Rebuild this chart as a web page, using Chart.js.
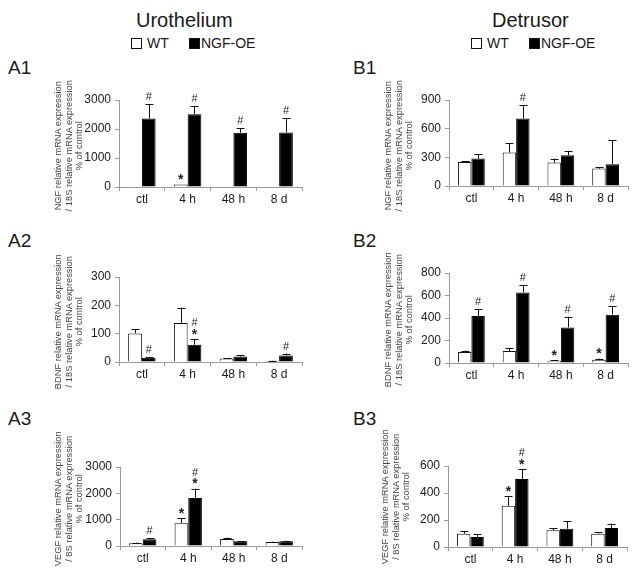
<!DOCTYPE html>
<html>
<head>
<meta charset="utf-8">
<script src="https://cdn.jsdelivr.net/npm/chart.js@4.4.0/dist/chart.umd.min.js"></script>
<style>
  body { margin: 0; background: #fff; }
  #fig { position: relative; width: 641px; height: 574px; overflow: hidden;
         font-family: "Liberation Sans", Arial, sans-serif; color: #1a1a1a; }
  #fig canvas { position: absolute; }
  .txt { position: absolute; white-space: nowrap; }
  .head { font-size: 20px; line-height: 20px; }
  .panel { font-size: 19px; line-height: 19px; }
  .leg { font-size: 14px; line-height: 14px; }
  .box { position: absolute; width: 9px; height: 9px; border: 1px solid #111; }
  .ytitle { position: absolute; width: 150px; height: 31.5px; font-size: 9.3px; line-height: 10.5px;
            text-align: center; color: #444; transform: rotate(-90deg); white-space: nowrap; }
</style>
</head>
<body>
<div id="fig">
  <div class="txt head" style="left:136px; top:10px;">Urothelium</div>
  <div class="txt head" style="left:492px; top:10px;">Detrusor</div>

  <div class="box" style="left:131px; top:38px; background:#fff;"></div>
  <div class="txt leg" style="left:147px; top:36px;">WT</div>
  <div class="box" style="left:189px; top:38px; background:#000;"></div>
  <div class="txt leg" style="left:201px; top:36px;">NGF-OE</div>

  <div class="box" style="left:471px; top:38px; background:#fff;"></div>
  <div class="txt leg" style="left:487px; top:36px;">WT</div>
  <div class="box" style="left:529px; top:38px; background:#000;"></div>
  <div class="txt leg" style="left:541px; top:36px;">NGF-OE</div>

  <div class="txt panel" style="left:8px; top:58px;">A1</div>
  <div class="txt panel" style="left:353px; top:58px;">B1</div>
  <div class="txt panel" style="left:8px; top:231px;">A2</div>
  <div class="txt panel" style="left:353px; top:231px;">B2</div>
  <div class="txt panel" style="left:8px; top:409px;">A3</div>
  <div class="txt panel" style="left:353px; top:409px;">B3</div>

  <canvas id="cA1"></canvas>
  <canvas id="cB1"></canvas>
  <canvas id="cA2"></canvas>
  <canvas id="cB2"></canvas>
  <canvas id="cA3"></canvas>
  <canvas id="cB3"></canvas>
</div>

<script>
// ---- data ----
const categories = ['ctl', '4 h', '48 h', '8 d'];

// A1 - NGF, urothelium
const wtA1 = [30, 90, 20, 20];
const wtErrA1 = [0, 0, 0, 0];
const ngfA1 = [2360, 2510, 1870, 1880];
const ngfErrA1 = [490, 280, 150, 500];
const wtMarksA1 = ['', '*', '', ''];
const ngfMarksA1 = ['#', '#', '#', '#'];

// B1 - NGF, detrusor
const wtB1 = [250, 350, 245, 182];
const wtErrB1 = [10, 95, 42, 18];
const ngfB1 = [287, 707, 322, 228];
const ngfErrB1 = [45, 140, 46, 250];
const wtMarksB1 = ['', '', '', ''];
const ngfMarksB1 = ['', '#', '', ''];

// A2 - BDNF, urothelium
const wtA2 = [101, 138, 12, 4];
const wtErrA2 = [14, 54, 2, 1];
const ngfA2 = [15, 61, 19, 23];
const ngfErrA2 = [3, 20, 5, 7];
const wtMarksA2 = ['', '', '', ''];
const ngfMarksA2 = ['#', '#*', '', '#'];

// B2 - BDNF, detrusor
const wtB2 = [98, 107, 21, 30];
const wtErrB2 = [12, 24, 5, 9];
const ngfB2 = [418, 627, 316, 430];
const ngfErrB2 = [65, 63, 95, 75];
const wtMarksB2 = ['', '', '*', '*'];
const ngfMarksB2 = ['#', '#', '#', '#'];

// A3 - VEGF, urothelium
const wtA3 = [102, 868, 268, 153];
const wtErrA3 = [25, 180, 50, 15];
const ngfA3 = [255, 1826, 179, 179];
const ngfErrA3 = [50, 357, 10, 25];
const wtMarksA3 = ['', '*', '', ''];
const ngfMarksA3 = ['#', '#*', '', ''];

// B3 - VEGF, detrusor
const wtB3 = [99, 305, 124, 99];
const wtErrB3 = [20, 72, 15, 10];
const ngfB3 = [74, 503, 136, 141];
const ngfErrB3 = [20, 72, 57, 33];
const wtMarksB3 = ['', '*', '', ''];
const ngfMarksB3 = ['', '#*', '', ''];

// y axis ranges
const yMaxA1 = 3000, yStepA1 = 1000;
const yMaxB1 = 900, yStepB1 = 300;
const yMaxA2 = 300, yStepA2 = 100;
const yMaxB2 = 800, yStepB2 = 200;
const yMaxA3 = 3000, yStepA3 = 1000;
const yMaxB3 = 600, yStepB3 = 200;

const titleNGF = ['NGF relative mRNA expression', '/ 18S relative mRNA expression', '% of control'];
const titleBDNF = ['BDNF relative mRNA expression', '/ 18S relative mRNA expression', '% of control'];
const titleVEGF = ['VEGF relative mRNA expression', '/ 8S relative mRNA expression', '% of control'];

// ---- helpers ----
const FONT = '"Liberation Sans", Arial, sans-serif';
const AXIS_COLOR = '#9a9a9a';
const Y_WIDTH = 71, PAD_TOP = 24, PAD_RIGHT = 4, X_HEIGHT = 26;

// upper error whiskers + significance marks
const errorBarPlugin = {
    id: 'errorBars',
    afterDatasetsDraw(chart) {
        const ctx = chart.ctx;
        const yScale = chart.scales.y;
        chart.data.datasets.forEach((ds, i) => {
            const meta = chart.getDatasetMeta(i);
            meta.data.forEach((bar, j) => {
                const err = ds.errors[j] || 0;
                const yTop = yScale.getPixelForValue(ds.data[j] + err);
                if (err > 0) {
                    ctx.save();
                    ctx.strokeStyle = '#111';
                    ctx.lineWidth = 1;
                    ctx.beginPath();
                    const x = Math.round(bar.x) + 0.5;
                    ctx.moveTo(x, bar.y);
                    ctx.lineTo(x, yTop);
                    ctx.moveTo(x - 4, Math.round(yTop) + 0.5);
                    ctx.lineTo(x + 4, Math.round(yTop) + 0.5);
                    ctx.stroke();
                    ctx.restore();
                }
                const marks = ds.marks[j] || '';
                const n = marks.length;
                for (let k = n - 1; k >= 0; k--) {
                    const ch = marks[k];
                    let cy = yTop - 7 - (n - 1 - k) * 9;
                    ctx.save();
                    ctx.fillStyle = '#222';
                    ctx.textAlign = 'center';
                    ctx.textBaseline = 'middle';
                    if (ch === '*') {
                        ctx.font = 'bold 14px ' + FONT;
                        cy += 3;
                    } else {
                        ctx.font = '11px ' + FONT;
                    }
                    ctx.fillText(ch, bar.x, cy);
                    ctx.restore();
                }
            });
        });
    }
};

// rotated three-line y axis title, as text next to the canvas
function addYTitle(lines, cx, cy) {
    const div = document.createElement('div');
    div.className = 'ytitle';
    div.innerHTML = lines.join('<br>');
    div.style.left = (cx - 75) + 'px';
    div.style.top = (cy - 15.75) + 'px';
    document.getElementById('fig').appendChild(div);
}

function makePanel(id, area, wt, wtErr, wtMarks, ngf, ngfErr, ngfMarks, yMax, yStep) {
    const canvas = document.getElementById(id);
    const left = area.left - Y_WIDTH;
    const top = area.top - PAD_TOP;
    const w = area.right - left + PAD_RIGHT;
    const h = area.bottom - top + X_HEIGHT;
    canvas.width = w;
    canvas.height = h;
    canvas.style.left = left + 'px';
    canvas.style.top = top + 'px';
    canvas.style.width = w + 'px';
    canvas.style.height = h + 'px';

    new Chart(canvas.getContext('2d'), {
        type: 'bar',
        data: {
            labels: categories,
            datasets: [{
                label: 'WT',
                data: wt,
                errors: wtErr,
                marks: wtMarks,
                backgroundColor: '#ffffff',
                borderColor: '#111',
                borderWidth: 1,
                borderSkipped: 'bottom'
            }, {
                label: 'NGF-OE',
                data: ngf,
                errors: ngfErr,
                marks: ngfMarks,
                backgroundColor: '#000000',
                borderColor: '#000',
                borderWidth: 1,
                borderSkipped: 'bottom'
            }]
        },
        options: {
            responsive: false,
            animation: false,
            categoryPercentage: 0.6,
            barPercentage: 1.0,
            layout: { padding: { left: 0, right: PAD_RIGHT, top: PAD_TOP, bottom: 0 } },
            plugins: { legend: { display: false }, tooltip: { enabled: false } },
            scales: {
                x: {
                    afterFit: s => { s.height = X_HEIGHT; },
                    grid: { offset: true, drawOnChartArea: false, drawTicks: true, tickLength: 4, color: AXIS_COLOR },
                    border: { display: true, color: AXIS_COLOR, width: 1 },
                    ticks: { color: '#1a1a1a', padding: 1, font: { family: FONT, size: 12 } }
                },
                y: {
                    min: 0,
                    max: yMax,
                    afterFit: s => { s.width = Y_WIDTH; },
                    grid: { drawOnChartArea: false, drawTicks: true, tickLength: 4, color: AXIS_COLOR },
                    border: { display: true, color: AXIS_COLOR, width: 1 },
                    ticks: {
                        stepSize: yStep,
                        color: '#1a1a1a',
                        padding: 4,
                        font: { family: FONT, size: 12 },
                        callback: v => String(v)
                    }
                }
            }
        },
        plugins: [errorBarPlugin]
    });
}

makePanel('cA1', { left: 119, right: 302, top: 100, bottom: 187 }, wtA1, wtErrA1, wtMarksA1, ngfA1, ngfErrA1, ngfMarksA1, yMaxA1, yStepA1);
makePanel('cB1', { left: 449, right: 628, top: 100, bottom: 186 }, wtB1, wtErrB1, wtMarksB1, ngfB1, ngfErrB1, ngfMarksB1, yMaxB1, yStepB1);
makePanel('cA2', { left: 119, right: 302, top: 277, bottom: 362 }, wtA2, wtErrA2, wtMarksA2, ngfA2, ngfErrA2, ngfMarksA2, yMaxA2, yStepA2);
makePanel('cB2', { left: 449, right: 628, top: 273, bottom: 363 }, wtB2, wtErrB2, wtMarksB2, ngfB2, ngfErrB2, ngfMarksB2, yMaxB2, yStepB2);
makePanel('cA3', { left: 120, right: 302, top: 467, bottom: 546 }, wtA3, wtErrA3, wtMarksA3, ngfA3, ngfErrA3, ngfMarksA3, yMaxA3, yStepA3);
makePanel('cB3', { left: 448, right: 627, top: 466, bottom: 547 }, wtB3, wtErrB3, wtMarksB3, ngfB3, ngfErrB3, ngfMarksB3, yMaxB3, yStepB3);

addYTitle(titleNGF, 68.5, 146);
addYTitle(titleNGF, 398.5, 146);
addYTitle(titleBDNF, 68.5, 322);
addYTitle(titleBDNF, 398.5, 320);
addYTitle(titleVEGF, 68.5, 499);
addYTitle(titleVEGF, 395.5, 497);
</script>
</body>
</html>
